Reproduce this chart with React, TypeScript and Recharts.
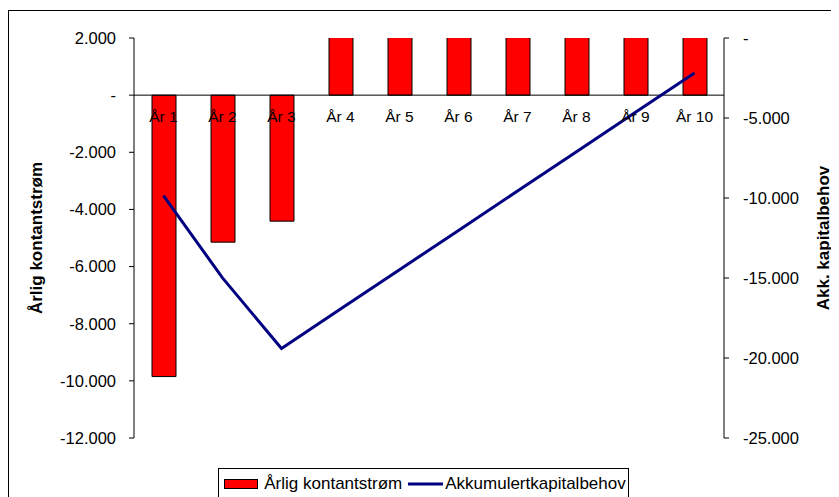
import {
  ComposedChart,
  Bar,
  Line,
  XAxis,
  YAxis,
  ReferenceLine,
  Legend,
  LabelList,
} from 'recharts';

const years = ['År 1', 'År 2', 'År 3', 'År 4', 'År 5', 'År 6', 'År 7', 'År 8', 'År 9', 'År 10'];
const annualCashFlow = [-9850, -5145, -4410, 2460, 2460, 2460, 2460, 2460, 2460, 2460];
const accumulatedNeed = [-9850, -14995, -19405, -16945, -14485, -12025, -9565, -7105, -4645, -2190];
const leftTicks = [-12000, -10000, -8000, -6000, -4000, -2000, 0, 2000];
const rightTicks = [-25000, -20000, -15000, -10000, -5000, 0];

const data = years.map((name, i) => ({
  name,
  flow: annualCashFlow[i],
  acc: accumulatedNeed[i],
  zero: 0,
}));

// Excel-ish number format: 0 -> "-", thousands with dot
function fmt(v: number): string {
  if (v === 0) return '-';
  const s = Math.abs(v)
    .toString()
    .replace(/\B(?=(\d{3})+(?!\d))/g, '.');
  return (v < 0 ? '-' : '') + s;
}

function LegendBox({ payload }: any) {
  const items = (payload || [])
    .filter((p: any) => p.type !== 'none')
    .sort((a: any, b: any) => (a.type === 'rect' ? -1 : 0) - (b.type === 'rect' ? -1 : 0));
  return (
    <div style={{ display: 'flex', justifyContent: 'center' }}>
      <div
        style={{
          display: 'flex',
          alignItems: 'center',
          border: '1px solid #000',
          height: 32,
          boxSizing: 'border-box',
          padding: '0 2px 0 5px',
          fontSize: 17,
          color: '#000',
          background: '#fff',
        }}
      >
        {items.map((p: any) => (
          <div key={p.value} style={{ display: 'flex', alignItems: 'center' }}>
            {p.type === 'line' ? (
              <svg width={37} height={10} style={{ marginLeft: 6 }}>
                <line x1={0} y1={5} x2={35} y2={5} stroke={p.color} strokeWidth={3} />
              </svg>
            ) : (
              <svg width={40} height={12}>
                <rect x={0.5} y={1.5} width={33} height={9} fill={p.color} stroke="#000" />
              </svg>
            )}
            <span>{p.value}</span>
          </div>
        ))}
      </div>
    </div>
  );
}

export default function App() {
  return (
    <div
      style={{
        position: 'relative',
        top: 2,
        width: 829,
        height: 489,
        border: '1px solid #000',
        fontFamily: '"Liberation Sans", Arial, sans-serif',
        background: '#fff',
      }}
    >
      <ComposedChart
        width={829}
        height={489}
        data={data}
        margin={{ top: 27, right: 0, bottom: 0, left: 0 }}
      >
        <XAxis dataKey="name" height={30} tick={false} axisLine={false} tickLine={false} />
        <YAxis
          yAxisId="left"
          domain={[-12000, 2000]}
          ticks={leftTicks}
          allowDataOverflow
          interval={0}
          width={125}
          tickSize={5}
          tickMargin={13}
          stroke="#000"
          tick={{ fill: '#000', fontSize: 16.5 }}
          tickFormatter={fmt}
          label={{
            value: 'Årlig kontantstrøm',
            angle: -90,
            position: 'center',
            dx: -36,
            style: { fontWeight: 'bold', fontSize: 17, fill: '#000' },
          }}
        />
        <YAxis
          yAxisId="right"
          orientation="right"
          domain={[-25000, 0]}
          ticks={rightTicks}
          interval={0}
          width={114}
          tickSize={5}
          tickMargin={14}
          stroke="#000"
          tick={{ fill: '#000', fontSize: 16.5 }}
          tickFormatter={fmt}
          label={{
            value: 'Akk. kapitalbehov',
            angle: -90,
            position: 'center',
            dx: 42,
            style: { fontWeight: 'bold', fontSize: 17, fill: '#000' },
          }}
        />
        <ReferenceLine yAxisId="left" y={0} stroke="#000" />
        <Bar
          yAxisId="left"
          dataKey="flow"
          name="Årlig kontantstrøm"
          fill="#FF0000"
          stroke="#000"
          strokeWidth={1}
          barSize={24}
          isAnimationActive={false}
        />
        <Line
          yAxisId="left"
          dataKey="zero"
          stroke="none"
          dot={false}
          activeDot={false}
          legendType="none"
          isAnimationActive={false}
        >
          <LabelList
            dataKey="name"
            position="bottom"
            offset={16}
            fill="#000"
            stroke="none"
            fontSize={15.5}
            fontWeight="normal"
          />
        </Line>
        <Line
          yAxisId="right"
          dataKey="acc"
          name="Akkumulertkapitalbehov"
          type="linear"
          stroke="#000080"
          strokeWidth={3}
          dot={false}
          isAnimationActive={false}
        />
        <Legend verticalAlign="bottom" content={<LegendBox />} />
      </ComposedChart>
    </div>
  );
}
